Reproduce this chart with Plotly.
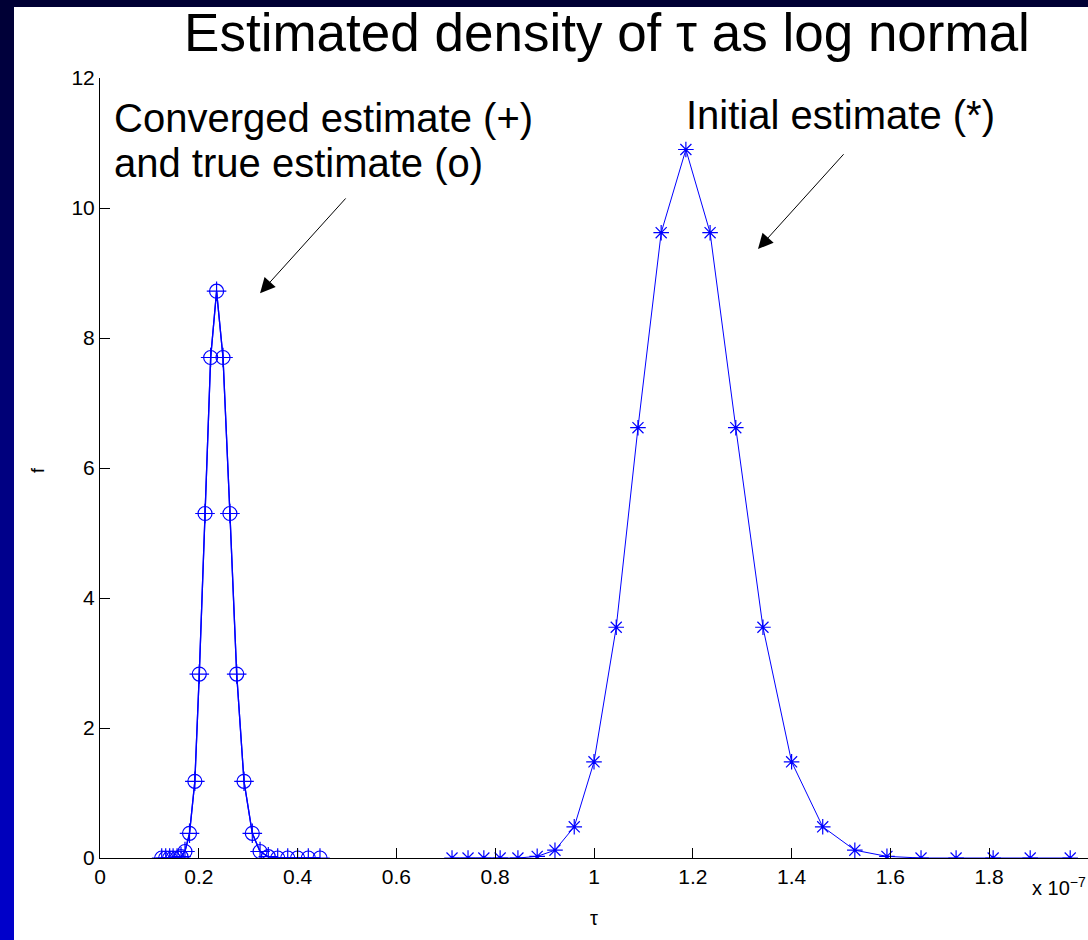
import plotly.graph_objects as go

# Data (tau in units of 1e-7)
conv_tau = [0.1249, 0.1330, 0.1410, 0.1480, 0.1560, 0.1640, 0.1720, 0.1812, 0.1920,
            0.2010, 0.2126, 0.2240, 0.2360, 0.2490, 0.2630, 0.2767, 0.2915, 0.3083,
            0.3240, 0.3407, 0.3597, 0.3800, 0.4000, 0.4217, 0.4453]
conv_f = [0, 0, 0, 0, 0, 0.02, 0.10, 0.38, 1.18, 2.83, 5.30, 7.70, 8.72,
          7.70, 5.30, 2.83, 1.18, 0.38, 0.10, 0.02, 0, 0, 0, 0, 0]
true_tau = conv_tau
true_f = conv_f

init_tau = [0.7126, 0.745, 0.777, 0.810, 0.846, 0.885, 0.921, 0.960, 1.000, 1.045,
            1.089, 1.136, 1.186, 1.235, 1.287, 1.342, 1.400, 1.463, 1.528, 1.593,
            1.662, 1.733, 1.808, 1.883, 1.964]
init_f = [0, 0, 0, 0, 0, 0.025, 0.12, 0.48, 1.48, 3.55, 6.62, 9.62, 10.90,
          9.62, 6.62, 3.55, 1.48, 0.48, 0.12, 0.025, 0, 0, 0, 0, 0]

x_ticks = [0, 0.2, 0.4, 0.6, 0.8, 1, 1.2, 1.4, 1.6, 1.8, 2]
x_tick_text = ["0", "0.2", "0.4", "0.6", "0.8", "1", "1.2", "1.4", "1.6", "1.8", "2"]
y_ticks = [0, 2, 4, 6, 8, 10, 12]

BLUE = "rgb(0,0,255)"
FONT = "Liberation Sans, Arial, Helvetica, sans-serif"

fig = go.Figure()
fig.add_trace(go.Scatter(x=true_tau, y=true_f, mode="lines+markers", name="true (o)",
                         line=dict(color=BLUE, width=1.3),
                         marker=dict(symbol="circle-open", size=14, color=BLUE,
                                     line=dict(width=1.2, color=BLUE))))
fig.add_trace(go.Scatter(x=conv_tau, y=conv_f, mode="lines+markers", name="converged (+)",
                         line=dict(color=BLUE, width=1.3),
                         marker=dict(symbol="cross-thin-open", size=14, color=BLUE,
                                     line=dict(width=1.2, color=BLUE))))
fig.add_trace(go.Scatter(x=init_tau, y=init_f, mode="lines+markers", name="initial (*)",
                         line=dict(color=BLUE, width=1),
                         marker=dict(symbol="asterisk-open", size=13, color=BLUE,
                                     line=dict(width=1.2, color=BLUE))))

W, H = 1088, 940
L, R, T, B = 100, 0, 78, 82
pw, ph = W - L - R, H - T - B


def px(xp):
    return (xp - L) / pw


def py(yp):
    return (H - B - yp) / ph


shapes = []
# top dark strip
shapes.append(dict(type="rect", xref="paper", yref="paper", x0=px(0), x1=px(W),
                   y0=py(7), y1=py(0), fillcolor="rgb(0,0,52)", line=dict(width=0),
                   layer="below"))
# left gradient strip
n = 47
for i in range(n):
    y0 = i * H / n
    y1 = (i + 1) * H / n
    t = (i + 0.5) / n
    c = int(52 + (205 - 52) * t)
    shapes.append(dict(type="rect", xref="paper", yref="paper", x0=px(0), x1=px(14),
                       y0=py(y1), y1=py(y0), fillcolor=f"rgb(0,0,{c})",
                       line=dict(width=0), layer="below"))

annotations = [
    dict(text="Converged estimate (+)", xref="paper", yref="paper",
         x=px(112), y=py(118), xanchor="left", yanchor="middle", align="left",
         showarrow=False, font=dict(size=40, color="black", family=FONT)),
    dict(text="and true estimate (o)", xref="paper", yref="paper",
         x=px(112), y=py(163), xanchor="left", yanchor="middle", align="left",
         showarrow=False, font=dict(size=40, color="black", family=FONT)),
    dict(text="Initial estimate (*)", xref="paper", yref="paper",
         x=px(684), y=py(115), xanchor="left", yanchor="middle",
         showarrow=False, font=dict(size=40, color="black", family=FONT)),
    dict(text="", x=0.324, y=8.69, xref="x", yref="y", ax=0.50, ay=10.17,
         axref="x", ayref="y", showarrow=True, arrowhead=2, arrowsize=3,
         arrowwidth=1, arrowcolor="black"),
    dict(text="", x=1.332, y=9.37, xref="x", yref="y", ax=1.508, ay=10.85,
         axref="x", ayref="y", showarrow=True, arrowhead=2, arrowsize=3,
         arrowwidth=1, arrowcolor="black"),
    dict(text="f", xref="paper", yref="paper", x=px(38), y=py(470), textangle=-90,
         showarrow=False, xanchor="center", yanchor="middle",
         font=dict(size=18, color="black", family=FONT)),
    dict(text="τ", xref="paper", yref="paper", x=px(594), y=py(918),
         showarrow=False, xanchor="center", yanchor="middle",
         font=dict(size=20, color="black", family=FONT)),
    dict(text="x 10<sup>−7</sup>", xref="paper", yref="paper", x=px(1030), y=py(886),
         showarrow=False, xanchor="left", yanchor="middle",
         font=dict(size=20, color="black", family=FONT)),
]

fig.update_layout(
    width=W, height=H,
    margin=dict(l=L, r=R, t=T, b=B, pad=0),
    paper_bgcolor="white", plot_bgcolor="white",
    showlegend=False,
    title=dict(text="Estimated density of τ as log normal", x=607 / W, y=1 - 32 / H,
               xanchor="center", yanchor="middle", xref="container",
               font=dict(size=53, color="black", family=FONT)),
    font=dict(family=FONT, color="black"),
    shapes=shapes,
    annotations=annotations,
    xaxis=dict(range=[0, 2], tickvals=x_ticks, ticktext=x_tick_text,
               ticks="inside", ticklen=10, tickcolor="black", tickwidth=1,
               showline=True, linecolor="black", linewidth=1, mirror=False,
               showgrid=False, zeroline=False,
               tickfont=dict(size=21, color="black", family=FONT)),
    yaxis=dict(range=[0, 12], tickvals=y_ticks,
               ticks="inside", ticklen=10, tickcolor="black", tickwidth=1,
               showline=True, linecolor="black", linewidth=1, mirror=False,
               showgrid=False, zeroline=False,
               tickfont=dict(size=21, color="black", family=FONT)),
)

fig.write_html("out.html", config={"displayModeBar": False},
               post_script="document.body.style.margin='0';document.body.style.padding='0';")
